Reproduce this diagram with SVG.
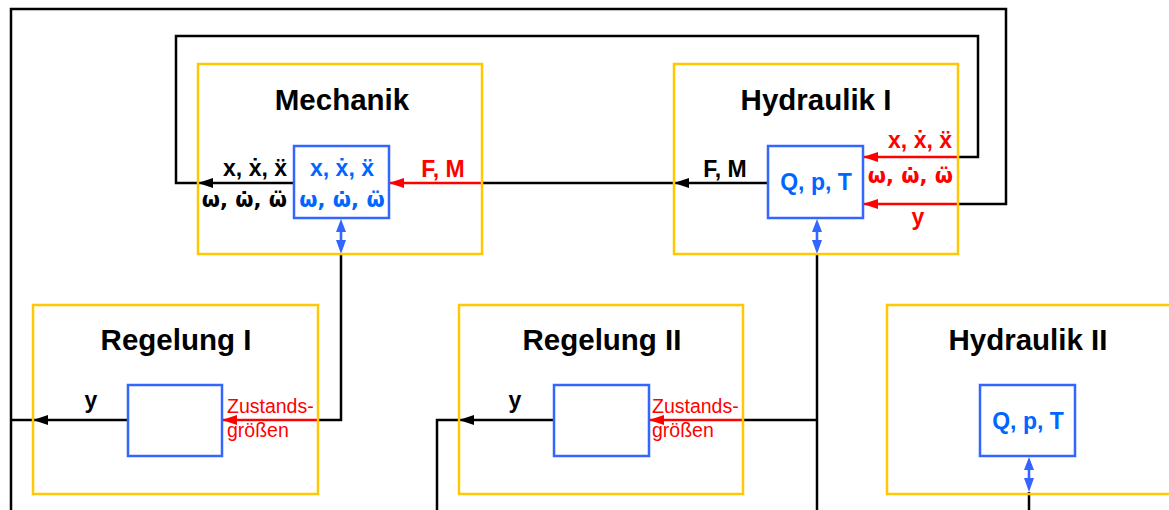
<svg xmlns="http://www.w3.org/2000/svg" width="1169" height="510" viewBox="0 0 1169 510">
<style>
.yb{fill:none;stroke:#FFC800;stroke-width:2.5}
.bb{fill:#fff;stroke:#3366FF;stroke-width:2.5}
.t{font-family:"Liberation Sans",Arial,sans-serif;font-weight:bold;font-size:29.5px;fill:#000;text-anchor:middle}
.s{font-family:"Liberation Sans","DejaVu Sans",Arial,sans-serif;font-weight:bold;font-size:23px}
.w{font-family:"DejaVu Sans",sans-serif;font-weight:bold;font-size:21px}
.blue{fill:#0066FF}
.red{fill:#FF0000}
.blk{fill:#000}
.z{font-family:"Liberation Sans",Arial,sans-serif;font-size:19.5px;fill:#FF0000}
.k{fill:none;stroke:#000;stroke-width:2.5}
.r{fill:none;stroke:#FF0000;stroke-width:2.5}
.ba{fill:#3366FF}
</style>
<defs>
<marker id="ak" markerWidth="15" markerHeight="10" refX="15" refY="5" orient="auto" markerUnits="userSpaceOnUse"><path d="M0,0 L15,5 L0,10 Z" fill="#000"/></marker>
<marker id="ar" markerWidth="15" markerHeight="10" refX="15" refY="5" orient="auto" markerUnits="userSpaceOnUse"><path d="M0,0 L15,5 L0,10 Z" fill="#FF0000"/></marker>
<path id="dbl" d="M0,0 L5,13 L1.3,13 L1.3,21 L5,21 L0,35 L-5,21 L-1.3,21 L-1.3,13 L-5,13 Z"/>
</defs>
<g id="connectors">
<path class="k" d="M11,510 V9 H1006 V204 H958"/>
<path class="r" d="M958,204 H863" marker-end="url(#ar)"/>
<path class="k" d="M294,183 H198" marker-end="url(#ak)"/>
<path class="k" d="M198,183 H176 V36 H978 V157 H958"/>
<path class="r" d="M958,157 H863" marker-end="url(#ar)"/>
<path class="k" d="M768,183 H674" marker-end="url(#ak)"/>
<path class="k" d="M674,183 H482"/>
<path class="r" d="M482,183 H389" marker-end="url(#ar)"/>
<use href="#dbl" class="ba" x="341" y="219"/>
<path class="k" d="M341,254 V420 H318"/>
<path class="r" d="M318,420 H222" marker-end="url(#ar)"/>
<path class="k" d="M128,420 H33" marker-end="url(#ak)"/>
<path class="k" d="M33,420 H11"/>
<use href="#dbl" class="ba" x="817" y="219"/>
<path class="k" d="M817,254 V510"/>
<path class="k" d="M817,420 H743"/>
<path class="r" d="M743,420 H649" marker-end="url(#ar)"/>
<path class="k" d="M554,420 H459" marker-end="url(#ak)"/>
<path class="k" d="M459,420 H437 V510"/>
<use href="#dbl" class="ba" x="1029" y="457"/>
<path class="k" d="M1029,492 V510"/>
</g>
<g id="mechanik">
<rect class="yb" x="198" y="64" width="284" height="190"/>
<text class="t" x="342" y="110">Mechanik</text>
<rect class="bb" x="294" y="146" width="95" height="72"/>
<text class="s blue" x="342" y="176" text-anchor="middle">x, ẋ, ẍ</text>
<text class="w blue" x="342" y="207" text-anchor="middle">ω, ω̇, ω̈</text>
<text class="s blk" x="287" y="176" text-anchor="end">x, ẋ, ẍ</text>
<text class="w blk" x="287" y="207" text-anchor="end">ω, ω̇, ω̈</text>
<text class="s red" x="443" y="177" text-anchor="middle">F, M</text>
</g>
<g id="hydraulik1">
<rect class="yb" x="674" y="64" width="284" height="190"/>
<text class="t" x="816" y="110">Hydraulik I</text>
<rect class="bb" x="768" y="146" width="95" height="72"/>
<text class="s blue" x="816" y="190" text-anchor="middle">Q, p, T</text>
<text class="s blk" x="725" y="177" text-anchor="middle">F, M</text>
<text class="s red" x="952" y="148" text-anchor="end">x, ẋ, ẍ</text>
<text class="w red" x="953" y="183" text-anchor="end">ω, ω̇, ω̈</text>
<text class="s red" x="918" y="225" text-anchor="middle">y</text>
</g>
<g id="regelung1">
<rect class="yb" x="33" y="305" width="285" height="189"/>
<text class="t" x="176" y="350">Regelung I</text>
<rect class="bb" x="128" y="385" width="94" height="71"/>
<text class="s blk" x="91" y="408" text-anchor="middle">y</text>
<text class="z" x="227" y="413">Zustands-</text>
<text class="z" x="227" y="437">größen</text>
</g>
<g id="regelung2">
<rect class="yb" x="459" y="305" width="284" height="189"/>
<text class="t" x="602" y="350">Regelung II</text>
<rect class="bb" x="554" y="385" width="95" height="71"/>
<text class="s blk" x="515" y="408" text-anchor="middle">y</text>
<text class="z" x="652" y="413">Zustands-</text>
<text class="z" x="652" y="437">größen</text>
</g>
<g id="hydraulik2">
<rect class="yb" x="887" y="305" width="300" height="189"/>
<text class="t" x="1028" y="350">Hydraulik II</text>
<rect class="bb" x="980" y="385" width="95" height="71"/>
<text class="s blue" x="1028" y="429" text-anchor="middle">Q, p, T</text>
</g>
</svg>
